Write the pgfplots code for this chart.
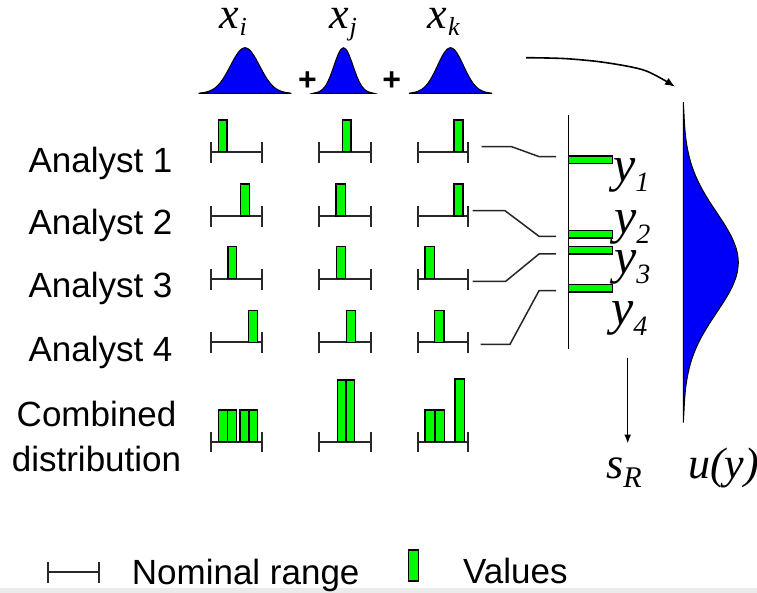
\documentclass[border=0pt]{standalone}
\usepackage{fontspec}
\setmainfont{Liberation Serif}
\setsansfont{Liberation Sans}
\usepackage{pgfplots}
\usepackage{pgfplotstable}
\pgfplotsset{compat=1.18}
\usetikzlibrary{arrows.meta}
\definecolor{vgreen}{RGB}{0,250,0}
\definecolor{gblue}{RGB}{0,0,250}
\definecolor{rng}{RGB}{40,40,40}

\pgfplotstableread{
u g
-3.20 0.0000
-3.00 0.0111
-2.75 0.0228
-2.50 0.0439
-2.25 0.0796
-2.00 0.1353
-1.75 0.2163
-1.50 0.3247
-1.25 0.4578
-1.00 0.6065
-0.75 0.7548
-0.50 0.8825
-0.25 0.9692
0.00 1.0000
0.25 0.9692
0.50 0.8825
0.75 0.7548
1.00 0.6065
1.25 0.4578
1.50 0.3247
1.75 0.2163
2.00 0.1353
2.25 0.0796
2.50 0.0439
2.75 0.0228
3.00 0.0111
3.20 0.0000
}\gauss

\newcommand{\vbar}[4]{\addplot[fill=vgreen, draw=black, line width=1.1pt] coordinates {(#1,#4) (#1,#3) (#2,#3) (#2,#4)} -- cycle;}
\newcommand{\nrange}[5]{%
 \addplot[draw=rng, line width=2pt] coordinates {(#1,#3) (#2,#3)};
 \addplot[draw=rng, line width=2pt] coordinates {(#1,#4) (#1,#5)};
 \addplot[draw=rng, line width=2pt] coordinates {(#2,#4) (#2,#5)};}
\newcommand{\conn}[8]{\addplot[draw=black!85, line width=1.5pt] coordinates {(#1,#2) (#3,#4) (#5,#6) (#7,#8)};}

\begin{document}
\begin{tikzpicture}
\begin{axis}[
  scale only axis, width=757pt, height=593pt,
  xmin=0, xmax=757, ymin=0, ymax=593, y dir=reverse,
  hide axis, clip=false]

% grey band at bottom
\addplot[fill=black!8, draw=none] coordinates {(0,588.3) (757,588.3) (757,593) (0,593)} -- cycle;

% top gaussians
\addplot[fill=gblue, draw=black, line width=1pt, smooth] table[x expr={245+14.5*\thisrow{u}}, y expr={93.3-45.6*\thisrow{g}}] {\gauss} -- cycle;
\addplot[fill=gblue, draw=black, line width=1pt, smooth] table[x expr={343.5+9.5*\thisrow{u}}, y expr={93.3-45.6*\thisrow{g}}] {\gauss} -- cycle;
\addplot[fill=gblue, draw=black, line width=1pt, smooth] table[x expr={450.5+13*\thisrow{u}}, y expr={93.3-45.6*\thisrow{g}}] {\gauss} -- cycle;

% right gaussian u(y)
\addplot[fill=gblue, draw=black, line width=1pt, smooth] table[x expr={683.3+55*\thisrow{g}}, y expr={262.5+50*\thisrow{u}}] {\gauss} -- cycle;
\addplot[draw=black, line width=1.4pt] coordinates {(683.3,102.5) (683.3,422)};

% nominal ranges
\nrange{211}{261.7}{151.7}{142}{162.7}
\nrange{319.3}{370.7}{151.7}{142}{162.7}
\nrange{417.7}{468.3}{151.7}{142}{162.7}
\nrange{211}{261.7}{216}{206}{227}
\nrange{319.3}{370.7}{216}{206}{227}
\nrange{417.7}{468.3}{216}{206}{227}
\nrange{211}{261.7}{278.7}{268.7}{290}
\nrange{319.3}{370.7}{278.7}{268.7}{290}
\nrange{417.7}{468.3}{278.7}{268.7}{290}
\nrange{211}{261.7}{342.3}{332}{353}
\nrange{319.3}{370.7}{342.3}{332}{353}
\nrange{417.7}{468.3}{342.3}{332}{353}
\nrange{211}{261.7}{441.7}{432}{452}
\nrange{319.3}{370.7}{441.7}{432}{452}
\nrange{417.7}{468.3}{441.7}{432}{452}

% analyst values
\vbar{218.3}{227}{120}{151.7}
\vbar{342.3}{351}{120}{151.7}
\vbar{454}{463}{120}{151.7}
\vbar{240.3}{249.7}{184}{216}
\vbar{336}{345.3}{184}{216}
\vbar{454}{463}{184}{216}
\vbar{228}{236.7}{246.5}{278.7}
\vbar{336.7}{345.7}{246.5}{278.7}
\vbar{425}{434.3}{246.5}{278.7}
\vbar{248.3}{257.7}{310.7}{342.3}
\vbar{346.3}{355.3}{310.7}{342.3}
\vbar{434.7}{444}{310.7}{342.3}
% combined distribution
\vbar{218.3}{227.7}{410}{441.7}
\vbar{227.7}{236.7}{410}{441.7}
\vbar{240}{249}{410}{441.7}
\vbar{249}{257.7}{410}{441.7}
\vbar{337.3}{346}{380}{441.7}
\vbar{346}{354.7}{380}{441.7}
\vbar{425}{435}{410}{441.7}
\vbar{435}{444.3}{410}{441.7}
\vbar{455}{464.3}{379}{441.7}

% connectors
\conn{481.7}{146.7}{511.7}{146.7}{539.3}{156.7}{556}{156.7}
\conn{472.7}{210.7}{505}{210.7}{539}{236.3}{556}{236.3}
\conn{472.7}{281.3}{505.7}{281.3}{539}{254}{556}{254}
\conn{480.7}{344.3}{510}{344.3}{539}{290.7}{556}{290.7}

% results axis
\addplot[draw=black, line width=1.5pt] coordinates {(568.3,115) (568.3,349.3)};
\vbar{568.3}{612.7}{156}{163.3}
\vbar{568.3}{612.7}{230.7}{238}
\vbar{568.3}{612.7}{246.7}{254}
\vbar{568.3}{612.7}{284.7}{292}

% arrows
\addplot[draw=black, line width=1.5pt, -{Latex[length=9pt,width=7pt]}] coordinates {(627.7,357.7) (627.7,443.5)};
\addplot[draw=black, line width=1.6pt, smooth, -{Latex[length=10pt,width=8pt]}] coordinates {(526,57.7) (565,58.6) (605,62.5) (645,70.5) (675,86.7)};

% legend
\nrange{48.3}{99.3}{572.3}{561.7}{583.3}
\vbar{408.3}{418.3}{550}{581}

% text
\begin{scope}[every node/.style={inner sep=0pt}]
\node[anchor=base west] at (28.3,172.7) {\sffamily\fontsize{35}{40}\selectfont Analyst 1};
\node[anchor=base west] at (28.3,235) {\sffamily\fontsize{35}{40}\selectfont Analyst 2};
\node[anchor=base west] at (28.3,297.3) {\sffamily\fontsize{35}{40}\selectfont Analyst 3};
\node[anchor=base west] at (28.3,361.7) {\sffamily\fontsize{35}{40}\selectfont Analyst 4};
\node[anchor=base] at (96.5,426.7) {\sffamily\fontsize{35}{40}\selectfont Combined};
\node[anchor=base] at (96.5,471.7) {\sffamily\fontsize{35}{40}\selectfont distribution};
\node[anchor=base west] at (131.7,584) {\sffamily\fontsize{35}{40}\selectfont Nominal range};
\node[anchor=base west] at (463,583.5) {\sffamily\fontsize{35}{40}\selectfont Values};

\node[anchor=base] at (307.5,90.5) {\sffamily\bfseries\fontsize{32}{34}\selectfont +};
\node[anchor=base] at (391.7,90.5) {\sffamily\bfseries\fontsize{32}{34}\selectfont +};

\node[anchor=base west] at (219,28.8) {\fontsize{44}{46}\selectfont\itshape x\kern1pt\raisebox{-7pt}{\fontsize{26}{28}\selectfont i}};
\node[anchor=base west] at (329,28.8) {\fontsize{44}{46}\selectfont\itshape x\kern1pt\raisebox{-7pt}{\fontsize{26}{28}\selectfont j}};
\node[anchor=base west] at (427.5,28.8) {\fontsize{44}{46}\selectfont\itshape x\kern1pt\raisebox{-7pt}{\fontsize{26}{28}\selectfont k}};

\node[anchor=base west] at (613,181.2) {\fontsize{50}{52}\selectfont\itshape y\raisebox{-10pt}{\fontsize{28}{30}\selectfont 1}};
\node[anchor=base west] at (614,233.5) {\fontsize{50}{52}\selectfont\itshape y\raisebox{-10pt}{\fontsize{28}{30}\selectfont 2}};
\node[anchor=base west] at (614,273.5) {\fontsize{50}{52}\selectfont\itshape y\raisebox{-10pt}{\fontsize{28}{30}\selectfont 3}};
\node[anchor=base west] at (611,325) {\fontsize{50}{52}\selectfont\itshape y\raisebox{-10pt}{\fontsize{28}{30}\selectfont 4}};

\node[anchor=base west] at (606,478.3) {\fontsize{44}{46}\selectfont\itshape s\raisebox{-9pt}{\fontsize{30}{32}\selectfont R}};
\node[anchor=base west] at (688,478) {\fontsize{44}{46}\selectfont\itshape u(y)};
\end{scope}
\end{axis}
\pgfresetboundingbox
\path[use as bounding box] (current axis.south west) rectangle (current axis.north east);
\end{tikzpicture}
\end{document}
